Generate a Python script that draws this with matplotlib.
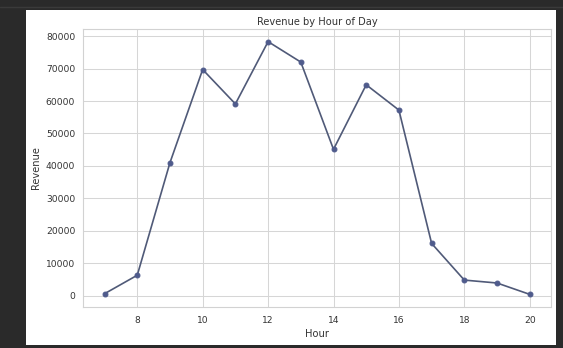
import matplotlib
matplotlib.use('Agg')
import matplotlib.pyplot as plt
import seaborn as sns
import pandas as pd

hours = [7, 8, 9, 10, 11, 12, 13, 14, 15, 16, 17, 18, 19, 20]
revenue = [600, 6300, 41000, 69700, 59100, 78300, 72000, 45100, 65000, 57200, 16100, 4800, 3900, 400]

sns.set_theme(style='whitegrid')
plt.rcParams['font.family'] = ['DejaVu Sans']

df = pd.DataFrame({'Hour': hours, 'Revenue': revenue})

W, H = 563, 348
fig = plt.figure(figsize=(W/100, H/100), dpi=100, facecolor='#2a2a2a')
# white canvas of the screenshot
fig.add_artist(plt.Rectangle((26/W, 1-345/H), (556-26)/W, (345-10)/H,
                             transform=fig.transFigure, facecolor='white',
                             edgecolor='none', zorder=-5))
fig.add_artist(plt.Line2D([0, 1], [1-6.5/H, 1-6.5/H], transform=fig.transFigure,
                          color='#3a3a3a', lw=1, zorder=-5))

ax = fig.add_axes([83.3/W, 1-307/H, (551-83.3)/W, (307-29)/H])
sns.lineplot(data=df, x='Hour', y='Revenue', marker='o', ax=ax,
             color='#505a78', linewidth=1.2, markersize=3.5,
             markerfacecolor='#4f5b8c', markeredgecolor='#4f5b8c')

for s in ax.spines.values():
    s.set_color('#d2d2d2')
    s.set_linewidth(0.8)
ax.grid(color='#d6d6d6', linewidth=0.75)
ax.tick_params(length=0, labelsize=6.6, colors='#333333')
ax.tick_params(axis='x', pad=6.3)
ax.tick_params(axis='y', pad=5.8)
ax.set_title('Revenue by Hour of Day', fontsize=7.1, color='#333333', pad=3.2)
ax.set_xlabel('Hour', fontsize=7.1, color='#333333', labelpad=3)
ax.set_ylabel('Revenue', fontsize=7.1, color='#333333', labelpad=3.4)

fig.savefig('out.png', dpi=100, facecolor=fig.get_facecolor())
